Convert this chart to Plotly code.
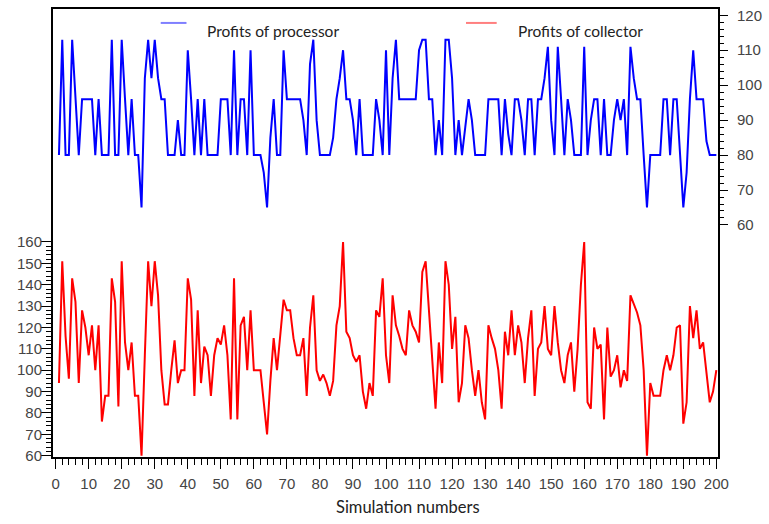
import plotly.graph_objects as go

# ---- data ----
sim = list(range(1, 201))

processor = [
    80, 113, 80, 80, 113, 96, 80, 96, 96, 96,
    96, 80, 96, 80, 80, 80, 113, 80, 80, 113,
    96, 80, 96, 80, 80, 65, 102, 113, 102, 113,
    102, 96, 96, 80, 80, 80, 90, 80, 80, 110,
    96, 80, 96, 80, 96, 80, 80, 80, 80, 96,
    96, 96, 80, 110, 80, 96, 96, 80, 110, 80,
    80, 80, 75, 65, 85, 96, 80, 80, 110, 96,
    96, 96, 96, 96, 90, 80, 106, 113, 90, 80,
    80, 80, 80, 85, 96, 102, 110, 96, 96, 90,
    80, 96, 80, 80, 80, 80, 96, 90, 80, 110,
    80, 102, 113, 96, 96, 96, 96, 96, 96, 110,
    113, 113, 96, 96, 80, 90, 80, 113, 113, 102,
    80, 90, 80, 88, 96, 90, 80, 80, 80, 80,
    96, 96, 96, 96, 80, 96, 86, 80, 96, 96,
    90, 80, 96, 96, 80, 96, 96, 102, 111, 90,
    80, 111, 96, 80, 96, 90, 80, 80, 80, 111,
    80, 90, 96, 96, 80, 96, 80, 80, 90, 96,
    90, 96, 80, 111, 102, 96, 96, 80, 65, 80,
    80, 80, 80, 96, 96, 80, 96, 96, 80, 65,
    75, 96, 110, 96, 96, 96, 84, 80, 80, 80,
]

collector = [
    94, 151, 116, 96, 143, 132, 94, 128, 120, 107,
    121, 100, 121, 76, 88, 88, 143, 132, 83, 151,
    113, 100, 113, 88, 88, 60, 107, 151, 130, 151,
    135, 100, 84, 84, 100, 114, 94, 100, 100, 143,
    133, 88, 128, 94, 111, 107, 88, 107, 115, 112,
    121, 107, 77, 143, 77, 121, 125, 100, 128, 100,
    100, 100, 85, 70, 95, 115, 100, 115, 133, 128,
    128, 115, 107, 107, 115, 88, 120, 135, 100, 95,
    98, 94, 88, 95, 121, 130, 160, 118, 115, 107,
    104, 107, 90, 82, 94, 88, 128, 125, 143, 107,
    94, 135, 121, 116, 110, 107, 128, 121, 118, 113,
    146, 151, 128, 110, 82, 113, 94, 151, 140, 110,
    125, 85, 94, 121, 115, 100, 88, 100, 85, 77,
    121, 115, 110, 100, 82, 118, 107, 128, 107, 121,
    113, 94, 115, 128, 88, 110, 113, 130, 110, 107,
    130, 113, 100, 94, 107, 113, 90, 110, 140, 160,
    85, 82, 120, 110, 112, 77, 120, 97, 100, 107,
    92, 100, 95, 135, 131, 127, 121, 100, 60, 94,
    88, 88, 88, 100, 107, 100, 107, 120, 121, 75,
    85, 130, 115, 128, 110, 113, 100, 85, 90, 100,
]

x_ticks = list(range(0, 201, 10))
left_ticks = list(range(60, 161, 10))
right_ticks = list(range(60, 121, 10))

legend_names = ["Profits of processor", "Profits of collector"]
x_title = "Simulation numbers"

# ---- layout geometry (pixels) ----
W, H = 769, 524
PL, PR, PT, PB = 53.3, 724.3, 7, 457


def px(x):
    return (x - PL) / (PR - PL)


def py(y):
    return (PB - y) / (PB - PT)


fig = go.Figure()
fig.add_trace(go.Scatter(x=sim, y=collector, mode="lines",
                         line=dict(color="#ff0000", width=2),
                         name=legend_names[1], yaxis="y"))
fig.add_trace(go.Scatter(x=sim, y=processor, mode="lines",
                         line=dict(color="#0000ff", width=2),
                         name=legend_names[0], yaxis="y2"))

tickfont = dict(family="Liberation Sans, Arial, sans-serif", size=15, color="#444")

fig.update_layout(
    width=W, height=H,
    margin=dict(l=PL, r=W - PR, t=PT, b=H - PB, pad=0),
    paper_bgcolor="white", plot_bgcolor="white",
    showlegend=False,
    xaxis=dict(range=[-0.8, 200.5], showgrid=False, zeroline=False,
               showline=True, linecolor="black", linewidth=2, mirror=True,
               tickvals=x_ticks, ticks="outside", ticklen=10, tickwidth=1,
               tickcolor="black", tickfont=tickfont, ticklabelstandoff=2,
               minor=dict(tickvals=list(range(0, 201, 2)), ticks="outside",
                          ticklen=6, tickwidth=1, tickcolor="black")),
    yaxis=dict(range=[59.4, 269], showgrid=False, zeroline=False,
               showline=True, linecolor="black", linewidth=2,
               tickvals=left_ticks, ticks="outside", ticklen=10, tickwidth=1,
               tickcolor="black", tickfont=tickfont, ticklabelstandoff=-4,
               minor=dict(tickvals=list(range(60, 161, 2)), ticks="outside",
                          ticklen=5, tickwidth=1, tickcolor="black")),
    yaxis2=dict(range=[-6.4, 121.8], overlaying="y", side="right",
                showgrid=False, zeroline=False,
                showline=True, linecolor="black", linewidth=2,
                tickvals=right_ticks, ticks="outside", ticklen=8, tickwidth=1,
                tickcolor="black", tickfont=tickfont, ticklabelstandoff=6,
                minor=dict(tickvals=list(range(60, 121, 2)), ticks="outside",
                           ticklen=4, tickwidth=1, tickcolor="black")),
)

legfont = dict(family="Lato, 'Open Sans', sans-serif", size=15.5, color="#222")
titlefont = dict(family="Lato, 'Open Sans', sans-serif", size=16.5, color="#222")

# manual legend
fig.add_shape(type="line", xref="paper", yref="paper",
              x0=px(162), x1=px(188), y0=py(21), y1=py(21),
              line=dict(color="rgba(0,0,255,0.5)", width=2))
fig.add_shape(type="line", xref="paper", yref="paper",
              x0=px(470), x1=px(501), y0=py(21), y1=py(21),
              line=dict(color="rgba(255,0,0,0.5)", width=2))
fig.add_annotation(xref="paper", yref="paper", x=px(207), y=py(29),
                   xanchor="left", yanchor="middle", showarrow=False,
                   text=legend_names[0], font=legfont)
fig.add_annotation(xref="paper", yref="paper", x=px(520), y=py(29),
                   xanchor="left", yanchor="middle", showarrow=False,
                   text=legend_names[1], font=legfont)
fig.add_annotation(xref="paper", yref="paper", x=px(411), y=py(507),
                   xanchor="center", yanchor="middle", showarrow=False,
                   text=x_title, font=titlefont)

fig.write_html("out.html")
